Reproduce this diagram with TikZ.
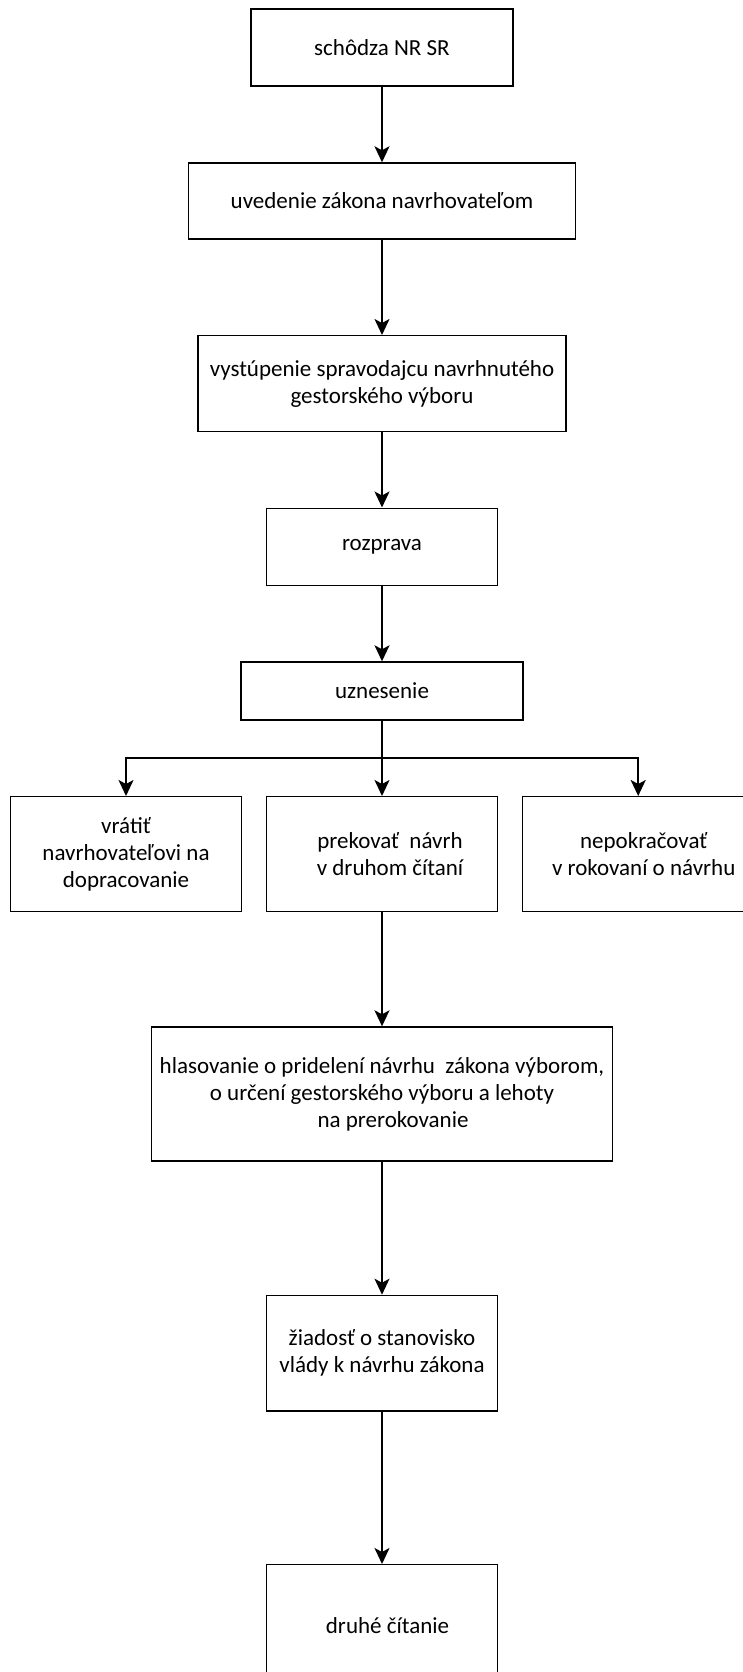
\documentclass[tikz,border=0pt]{standalone}
\usepackage{fontspec}
\setmainfont{Carlito}
\usetikzlibrary{arrows.meta}

\begin{document}
\begin{tikzpicture}[x=1pt, y=-1pt,
                    box/.style={draw, line width=1.4pt, align=center, inner sep=0pt, font=\fontsize{23}{27}\selectfont},
                    arr/.style={-{Stealth[length=16pt, width=15pt, inset=4pt]}, line width=1.8pt}]
                    \useasboundingbox (0,0) rectangle (743,1672);
                    
                    \node[box, minimum width=262, minimum height=77] (schodza) at (382,47.7) {schôdza NR SR};
                    \node[box, minimum width=387, minimum height=76] (uvedenie) at (382,201) {uvedenie zákona navrhovateľom};
                    \node[box, minimum width=368, minimum height=96] (vystupenie) at (382,383.7) {vystúpenie spravodajcu navrhnutého\\gestorského výboru};
                    \node[box, minimum width=231, minimum height=77] (rozprava) at (382,546.7) {rozprava};
                    \node[box, minimum width=282, minimum height=58] (uznesenie) at (382,691) {uznesenie};
                    \coordinate (rozvetvenie) at (382,758.3);
                    
                    \node[box, minimum width=231, minimum height=115] (vratit) at (126,854.2) {vrátiť\\navrhovateľovi na\\dopracovanie};
                    \node[box, minimum width=231, minimum height=115] (prekovat) at (382,854.2) {\hspace*{16pt}prekovať~ návrh\\\hspace*{16pt}v druhom čítaní};
                    \node[box, minimum width=231, minimum height=115] (nepokracovat) at (638.2,854.2) {\hspace*{11pt}nepokračovať\\\hspace*{11pt}v rokovaní o návrhu};
                    
                    \node[box, minimum width=461.5, minimum height=134] (hlasovanie) at (382,1094) {hlasovanie o pridelení návrhu~ zákona výborom,\\o určení gestorského výboru a lehoty\hspace*{38pt}\\\hspace*{22pt}na prerokovanie};
                    \node[box, minimum width=231, minimum height=115.6] (ziadost) at (382,1353.2) {žiadosť o stanovisko\\vlády k návrhu zákona};
                    \node[box, minimum width=231, minimum height=122.6] (druhe) at (382,1626) {\hspace*{11pt}druhé čítanie};
                    
                    \draw[arr] (schodza) -- (uvedenie);
                    \draw[arr] (uvedenie) -- (vystupenie);
                    \draw[arr] (vystupenie) -- (rozprava);
                    \draw[arr] (rozprava) -- (uznesenie);
                    \draw[arr] (uznesenie) -- (prekovat);
                    \draw[arr] (rozvetvenie) -| (vratit);
                    \draw[arr] (rozvetvenie) -| (nepokracovat);
                    \draw[arr] (prekovat) -- (hlasovanie);
                    \draw[arr] (hlasovanie) -- (ziadost);
                    \draw[arr] (ziadost) -- (druhe);
                \end{tikzpicture}
\end{document}
